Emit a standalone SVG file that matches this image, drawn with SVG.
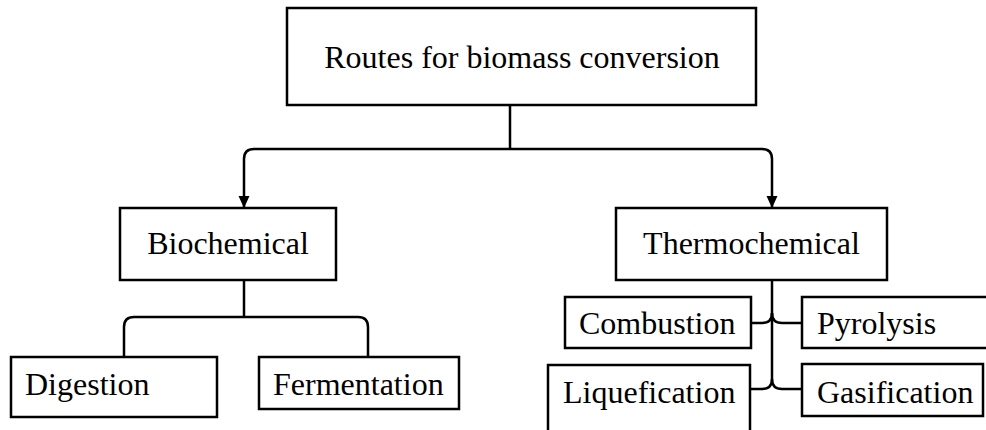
<svg xmlns="http://www.w3.org/2000/svg" width="986" height="430" viewBox="0 0 986 430">
<defs>
<style>
.box{fill:#fff;stroke:#000;stroke-width:2.5}
.lbl{font-family:"Liberation Serif","Times New Roman",serif;font-size:32px;fill:#000}
.c{text-anchor:middle}
.con{fill:none;stroke:#000;stroke-width:2.5}
</style>
<marker id="arr" markerUnits="userSpaceOnUse" markerWidth="12" markerHeight="12" refX="12" refY="6" orient="auto">
<path d="M0,0.5 L12,6 L0,11.5 Z" fill="#000"/>
</marker>
</defs>
<rect width="986" height="430" fill="#fff"/>
<g id="connectors">
<path class="con" d="M510,105 V149"/>
<path class="con" d="M510,149 H254 Q244,149 244,159 V208" marker-end="url(#arr)"/>
<path class="con" d="M510,149 H762 Q772,149 772,159 V208" marker-end="url(#arr)"/>
<path class="con" d="M244,280 V317"/>
<path class="con" d="M124,357 V327 Q124,317 134,317 H358 Q368,317 368,327 V357"/>
<path class="con" d="M772,280 V379"/>
<path class="con" d="M751,323 H762 Q772,323 772,313"/>
<path class="con" d="M802,323 H782 Q772,323 772,313"/>
<path class="con" d="M750,389 H762 Q772,389 772,379"/>
<path class="con" d="M802,389 H782 Q772,389 772,379"/>
</g>
<g id="routes">
<rect class="box" x="287" y="8" width="469" height="97"/>
<text class="lbl c" x="522" y="68">Routes for biomass conversion</text>
</g>
<g id="biochemical">
<rect class="box" x="120" y="208" width="216" height="72"/>
<text class="lbl c" x="228" y="254">Biochemical</text>
</g>
<g id="thermochemical">
<rect class="box" x="616" y="208" width="271" height="72"/>
<text class="lbl c" x="751.5" y="254">Thermochemical</text>
</g>
<g id="digestion">
<rect class="box" x="11" y="357" width="206" height="60"/>
<text class="lbl" x="25" y="395">Digestion</text>
</g>
<g id="fermentation">
<rect class="box" x="259" y="357" width="200" height="52"/>
<text class="lbl" x="273" y="395">Fermentation</text>
</g>
<g id="combustion">
<rect class="box" x="565" y="297" width="186" height="51"/>
<text class="lbl" x="579" y="334">Combustion</text>
</g>
<g id="pyrolysis">
<rect class="box" x="802" y="297" width="200" height="51"/>
<text class="lbl" x="817" y="334">Pyrolysis</text>
</g>
<g id="liquefication">
<rect class="box" x="548" y="365" width="202" height="100"/>
<text class="lbl" x="563" y="403">Liquefication</text>
</g>
<g id="gasification">
<rect class="box" x="802" y="364" width="181" height="52"/>
<text class="lbl" x="817" y="403">Gasification</text>
</g>
</svg>
